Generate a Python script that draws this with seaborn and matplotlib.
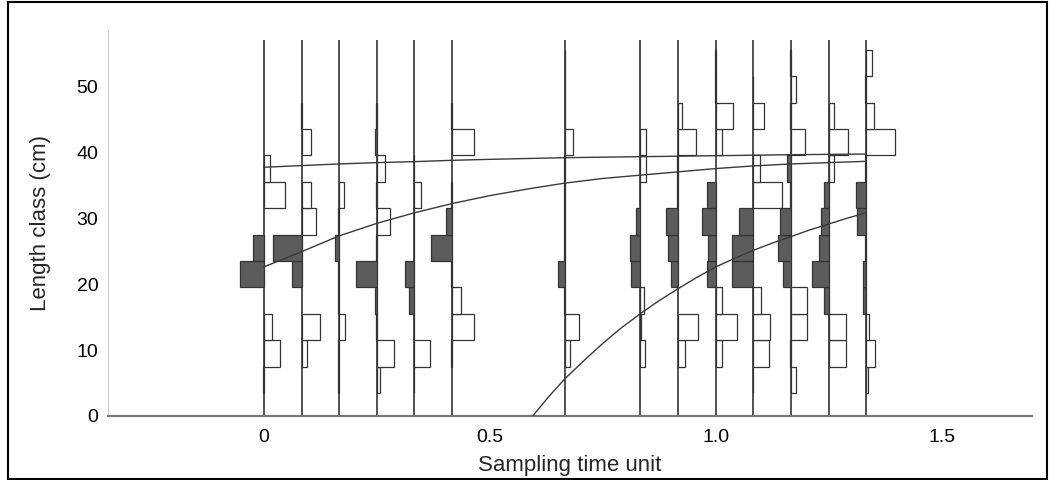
import numpy as np
import pandas as pd
import seaborn as sns
import matplotlib.pyplot as plt
from matplotlib.patches import Rectangle

sns.set_style("white")
plt.rcParams['font.family'] = ['Liberation Sans', 'DejaVu Sans']

# sampling months (time unit = 1 year)
sample_months = [0, 1, 2, 3, 4, 5, 8, 10, 11, 12, 13, 14, 15, 16]

# length class mid-points (cm), 4 cm classes
class_mids = [5.5, 9.5, 13.5, 17.5, 21.5, 25.5, 29.5, 33.5, 37.5, 41.5, 45.5, 49.5, 53.5]

# restructured scores per sample (positive = white peaks, negative = dark troughs)
scores = {
    0:  [-0.03, 0.36, 0.19, 0.00, -0.53, -0.24, 0.00, 0.46, 0.14, 0.00, 0.00, 0.00, 0.00],
    1:  [0.00, 0.13, 0.41, 0.00, -0.22, -0.63, 0.31, 0.22, 0.00, 0.21, -0.02, 0.00, 0.00],
    2:  [-0.02, -0.02, 0.13, -0.02, -0.02, -0.10, -0.02, 0.11, 0.00, 0.00, 0.00, 0.00, 0.00],
    3:  [0.06, 0.38, -0.02, -0.03, -0.47, -0.02, 0.29, -0.02, 0.17, -0.03, -0.02, 0.00, 0.00],
    4:  [-0.02, 0.34, -0.01, -0.12, -0.22, -0.01, -0.01, 0.14, -0.02, 0.00, 0.00, 0.00, 0.00],
    5:  [0.00, -0.02, 0.49, 0.19, -0.03, -0.46, -0.13, -0.03, 0.00, 0.49, -0.02, 0.00, 0.00],
    8:  [0.00, 0.10, 0.30, -0.03, -0.16, -0.02, -0.02, -0.02, -0.02, 0.18, -0.01, -0.01, -0.01],
    10: [0.00, 0.11, 0.01, 0.08, -0.20, -0.24, -0.09, -0.01, 0.12, 0.12, 0.00, 0.00, 0.00],
    11: [0.00, 0.16, 0.44, 0.00, -0.16, -0.23, -0.27, -0.02, -0.02, 0.40, 0.08, 0.00, 0.00],
    12: [0.00, 0.13, 0.47, 0.13, -0.19, -0.17, -0.30, -0.19, 0.00, 0.15, 0.38, -0.02, -0.01],
    13: [-0.01, 0.34, 0.36, 0.16, -0.47, -0.47, -0.32, 0.64, 0.15, 0.00, 0.23, -0.01, 0.00],
    14: [0.11, -0.02, 0.36, 0.36, -0.17, -0.28, -0.25, -0.03, -0.08, 0.32, -0.02, 0.12, -0.03],
    15: [0.00, 0.39, 0.38, -0.11, -0.36, -0.22, -0.18, -0.11, 0.12, 0.43, 0.12, 0.00, 0.00],
    16: [0.04, 0.19, 0.05, -0.08, -0.08, -0.02, -0.20, -0.22, -0.04, 0.63, 0.18, -0.04, 0.13],
}

# growth curves
curve_a_months = [0, 1, 2, 3, 4, 5, 6, 8, 10, 12, 14, 16]
curve_a_len = [37.7, 37.95, 38.2, 38.4, 38.55, 38.75, 38.9, 39.15, 39.3, 39.45, 39.6, 39.7]
curve_b_months = list(range(0, 17))
curve_b_len = [22.6, 24.9, 27.3, 29.2, 30.8, 32.2, 33.4, 34.4, 35.3, 36.0, 36.5, 37.0,
               37.5, 37.9, 38.2, 38.4, 38.6]
curve_c_time = [0.595, 0.63, 0.667, 0.71, 0.75, 0.79, 0.833, 0.875, 0.917, 0.958, 1.0,
                1.042, 1.083, 1.125, 1.167, 1.208, 1.25, 1.292, 1.333]
curve_c_len = [0.0, 2.9, 5.7, 8.5, 11.0, 13.3, 15.5, 17.5, 19.3, 21.0, 22.6,
               23.9, 25.1, 26.2, 27.2, 28.2, 29.1, 30.0, 30.8]

score_scale = 0.1   # x units per score unit
class_width = 4.0

fig = plt.figure(figsize=(10.5, 4.8), dpi=100)
ax = fig.add_axes([108 / 1050, 64 / 480, 924 / 1050, 386 / 480])

sample_times = [m / 12 for m in sample_months]

# baselines of each sample
ax.vlines(sample_times, 0, 57, color='#222222', lw=1.1, zorder=2)

# histograms
for m, t in zip(sample_months, sample_times):
    vals = np.array(scores[m])
    mids = np.array(class_mids)
    neg = vals < 0
    pos = vals > 0
    ax.barh(mids[pos], vals[pos] * score_scale, left=t, height=class_width,
            color='white', edgecolor='#333333', lw=0.9, zorder=3)
    ax.barh(mids[neg], vals[neg] * score_scale, left=t, height=class_width,
            color='#5c5c5c', edgecolor='#333333', lw=0.9, zorder=3)

# growth curves
curves = pd.concat([
    pd.DataFrame({'t': [m / 12 for m in curve_a_months], 'L': curve_a_len, 'c': 'a'}),
    pd.DataFrame({'t': [m / 12 for m in curve_b_months], 'L': curve_b_len, 'c': 'b'}),
    pd.DataFrame({'t': curve_c_time, 'L': curve_c_len, 'c': 'c'}),
])
sns.lineplot(data=curves, x='t', y='L', units='c', estimator=None, sort=False,
             color='#3a3a3a', lw=1.0, ax=ax, zorder=4, legend=False)

ax.set_xlim(-0.345, 1.70)
ax.set_ylim(0, 58.5)
ax.set_xticks([0, 0.5, 1.0, 1.5])
ax.set_xticklabels(['0', '0.5', '1.0', '1.5'])
ax.set_yticks([0, 10, 20, 30, 40, 50])
ax.tick_params(axis='both', length=0, labelsize=14, colors='black')
ax.tick_params(axis='x', pad=9)
ax.tick_params(axis='y', pad=7)
ax.set_xlabel('Sampling time unit', fontsize=16)
ax.set_ylabel('Length class (cm)', fontsize=16)
ax.xaxis.set_label_coords(0.5, -0.102)
ax.yaxis.set_label_coords(-0.062, 0.5)

for s in ['top', 'right']:
    ax.spines[s].set_visible(False)
ax.spines['bottom'].set_color('#777777')
ax.spines['bottom'].set_linewidth(1.6)
ax.spines['left'].set_color('#cccccc')
ax.spines['left'].set_linewidth(0.8)

# frame around the figure
fig.patches.append(Rectangle((8 / 1050, 0.002), 1039 / 1050, 0.994, transform=fig.transFigure,
                             fill=False, edgecolor='black', lw=1.5))

fig.savefig('out.png', dpi=100)
